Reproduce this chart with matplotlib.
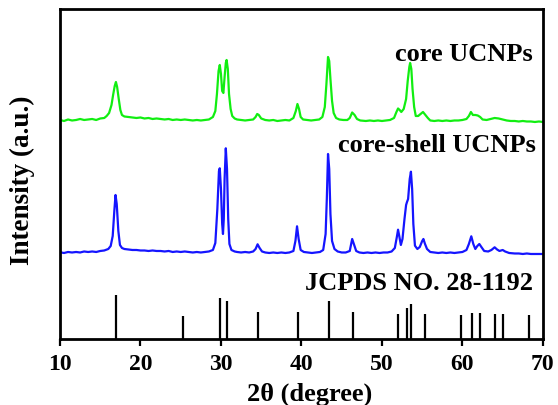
import matplotlib
matplotlib.use('Agg')
import matplotlib.pyplot as plt

# XRD patterns (2theta in degree, intensity in arb. units)
core_2theta = [10.0, 10.5, 11.0, 11.5, 12.0, 12.5, 13.0, 13.5, 14.0, 14.5, 15.0, 15.5,
               15.8, 16.1, 16.4, 16.6, 16.8, 16.95, 17.1, 17.3, 17.5, 17.7, 18.0, 18.5,
               19.0, 19.5, 20.0, 20.5, 21.0, 21.5, 22.0, 22.5, 23.0, 23.5, 24.0, 24.5,
               25.0, 25.5, 26.0, 26.5, 27.0, 27.5, 28.0, 28.5, 29.0, 29.3, 29.5, 29.7,
               29.85, 30.0, 30.15, 30.3, 30.45, 30.6, 30.7, 30.85, 31.0, 31.2, 31.4, 31.7,
               32.0, 32.5, 33.0, 33.5, 34.0, 34.3, 34.5, 34.7, 35.0, 35.5, 36.0, 36.5,
               37.0, 37.5, 38.0, 38.5, 39.0, 39.3, 39.5, 39.7, 39.9, 40.2, 40.7, 41.2,
               41.7, 42.2, 42.6, 42.9, 43.1, 43.3, 43.45, 43.6, 43.8, 44.0, 44.3, 44.7,
               45.2, 45.7, 46.0, 46.3, 46.6, 46.9, 47.3, 48.0, 48.5, 49.0, 49.5, 50.0,
               50.5, 51.0, 51.5, 51.8, 52.0, 52.2, 52.4, 52.7, 53.0, 53.2, 53.4, 53.5,
               53.65, 53.8, 54.0, 54.2, 54.5, 54.8, 55.1, 55.4, 55.7, 56.0, 56.5, 57.0,
               57.5, 58.0, 58.5, 59.0, 59.5, 60.0, 60.5, 60.8, 61.05, 61.3, 61.6, 61.9,
               62.2, 62.5, 63.0, 63.5, 64.0, 64.5, 65.0, 65.5, 66.0, 66.5, 67.0, 67.5,
               68.0, 68.5, 69.0, 69.5, 70.0]
core_intensity = [219, 218, 219.5, 218.5, 219, 220, 219, 219.5, 220, 219, 220.5, 221,
                  223, 226, 234, 244, 253, 257, 252, 240, 229, 224, 222.5, 222,
                  221.5, 221, 221.5, 220.5, 221, 220, 220.5, 220, 219.5, 220, 219, 219.5,
                  219, 219.5, 219, 218.5, 219, 218.5, 219, 219.5, 222, 228, 245, 268,
                  274, 265, 248, 246, 262, 276, 279, 270, 245, 230, 223, 220.5,
                  219.5, 219, 218.5, 219, 219.5, 222, 225, 224, 220.5, 219, 218.5, 219,
                  218, 218.5, 219, 218.5, 221, 228, 235, 230, 222, 219.5, 219, 218.5,
                  219, 219.5, 222, 232, 255, 282, 278, 260, 238, 226, 221, 219.5,
                  219, 219, 221, 226.5, 224, 220, 218.5, 218, 218.5, 218, 218.5, 218,
                  218.5, 219, 221, 227, 230.5, 229, 227, 230, 240, 258, 272, 276,
                  270, 250, 232, 223, 223, 225, 227, 224, 221, 218.5, 218, 218.5,
                  218, 218.5, 218, 218.5, 218.5, 219, 220, 223, 227, 224, 224, 223.5,
                  222, 219.5, 219, 220, 221, 220.5, 219.5, 218.5, 218, 218, 217.5, 218,
                  217.5, 217.5, 217, 217.5, 217]

shell_2theta = [10.0, 10.5, 11.0, 11.5, 12.0, 12.5, 13.0, 13.5, 14.0, 14.5, 15.0, 15.5,
                16.0, 16.3, 16.55, 16.75, 16.9, 17.05, 17.25, 17.45, 17.7, 18.0, 18.5, 19.0,
                19.5, 20.0, 20.5, 21.0, 21.5, 22.0, 22.5, 23.0, 23.5, 24.0, 24.5, 25.0,
                25.5, 26.0, 26.5, 27.0, 27.5, 28.0, 28.5, 29.0, 29.3, 29.55, 29.75, 29.85,
                30.0, 30.15, 30.25, 30.35, 30.45, 30.6, 30.75, 30.9, 31.05, 31.3, 31.7, 32.0,
                32.5, 33.0, 33.5, 34.0, 34.3, 34.55, 34.8, 35.1, 35.5, 36.0, 36.5, 37.0,
                37.5, 38.0, 38.5, 39.0, 39.25, 39.45, 39.65, 39.9, 40.3, 40.8, 41.3, 41.8,
                42.3, 42.7, 43.0, 43.15, 43.3, 43.45, 43.6, 43.8, 44.1, 44.5, 45.0, 45.5,
                46.0, 46.3, 46.55, 46.8, 47.2, 47.7, 48.2, 48.7, 49.2, 49.7, 50.2, 50.7,
                51.2, 51.6, 51.85, 52.0, 52.15, 52.35, 52.55, 52.8, 53.0, 53.1, 53.25, 53.45,
                53.6, 53.75, 53.9, 54.1, 54.4, 54.7, 55.0, 55.15, 55.35, 55.6, 56.0, 56.5,
                57.0, 57.5, 58.0, 58.5, 59.0, 59.5, 60.0, 60.5, 60.8, 61.1, 61.35, 61.6,
                61.85, 62.1, 62.35, 62.7, 63.2, 63.6, 64.0, 64.3, 64.6, 65.0, 65.3, 65.8,
                66.5, 67.0, 67.5, 68.0, 68.5, 69.0, 69.5, 70.0]
shell_intensity = [86.7, 86, 87, 86.5, 87, 86.5, 87.5, 87, 87.5, 87, 88, 88.5,
                   90, 93, 103, 128, 144, 135, 108, 94, 91, 90, 89.5, 89,
                   89, 88.5, 88.5, 88, 88.5, 88, 88, 87.5, 88, 87, 87.5, 87,
                   87.5, 87, 86.5, 87, 86.5, 87, 87.5, 89, 96, 130, 168, 170.7,
                   150, 115, 105, 120, 160, 190.7, 170, 120, 95, 89, 87.5, 87,
                   86.5, 87, 86.5, 87.5, 90, 94.7, 91, 87.5, 86.5, 86, 86.5, 86,
                   86.5, 86, 86.5, 88, 98, 112.7, 100, 89, 87, 86.5, 86, 86.5,
                   87, 89, 105, 140, 185, 170, 125, 98, 90, 87.5, 86.5, 86.5,
                   88, 100, 94, 88, 86.5, 86, 86.5, 86, 86.5, 86, 86.5, 86.5,
                   87.5, 91, 102, 109.3, 103, 94, 100, 120, 134, 136.7, 140, 160,
                   167.3, 150, 115, 93.3, 90, 92, 98, 100, 95, 90, 87, 86.5,
                   86, 86.5, 86, 86.5, 86, 86.5, 87, 89, 95, 102.7, 95, 90,
                   93, 95, 92, 88, 87.5, 89, 91.7, 89.5, 88, 89, 87.5, 86,
                   85.5, 85.5, 85, 85.5, 85, 85, 85, 85]

# JCPDS NO. 28-1192 reference lines
ref_2theta = [17.0, 25.3, 29.9, 30.8, 34.6, 39.6, 43.4, 46.4, 52.0, 53.1, 53.6,
              55.3, 59.8, 61.2, 62.2, 64.1, 65.0, 68.3]
ref_height = [44, 23, 41, 38, 27, 27, 38, 27, 25, 31, 35,
              25, 24, 26, 26, 25, 25, 24]

plt.rcParams['font.family'] = 'Liberation Serif'
plt.rcParams['font.weight'] = 'bold'

fig = plt.figure(figsize=(5.58, 4.06), dpi=100)
ax = fig.add_axes([0.1075, 0.1626, 0.8655, 0.8128])

ax.plot(core_2theta, core_intensity, color='#11ee11', lw=1.6)
ax.plot(shell_2theta, shell_intensity, color='#1515ff', lw=1.6)
ax.vlines(ref_2theta, 0, ref_height, color='black', lw=1.6)

ax.set_xlim(10, 70)
ax.set_ylim(0, 330)
ax.set_xticks(range(10, 71, 10))
ax.set_yticks([])
ax.tick_params(axis='x', direction='out', length=5, width=1.6, labelsize=17, pad=5)
for s in ax.spines.values():
    s.set_linewidth(2)

ax.text(68.7, 279, 'core UCNPs', ha='right', va='baseline', fontsize=19, fontweight='bold')
ax.text(69.1, 188, 'core-shell UCNPs', ha='right', va='baseline', fontsize=19, fontweight='bold')
ax.text(68.8, 50, 'JCPDS NO. 28-1192', ha='right', va='baseline', fontsize=19, fontweight='bold')

fig.text(310 / 558, 5 / 406, '2θ (degree)', ha='center', va='baseline',
         fontsize=19, fontweight='bold')
fig.text(22 / 558, 1 - 180 / 406, 'Intensity (a.u.)', rotation=90, ha='center', va='center',
         fontsize=19.5, fontweight='bold')

fig.savefig('out.png', dpi=100)
